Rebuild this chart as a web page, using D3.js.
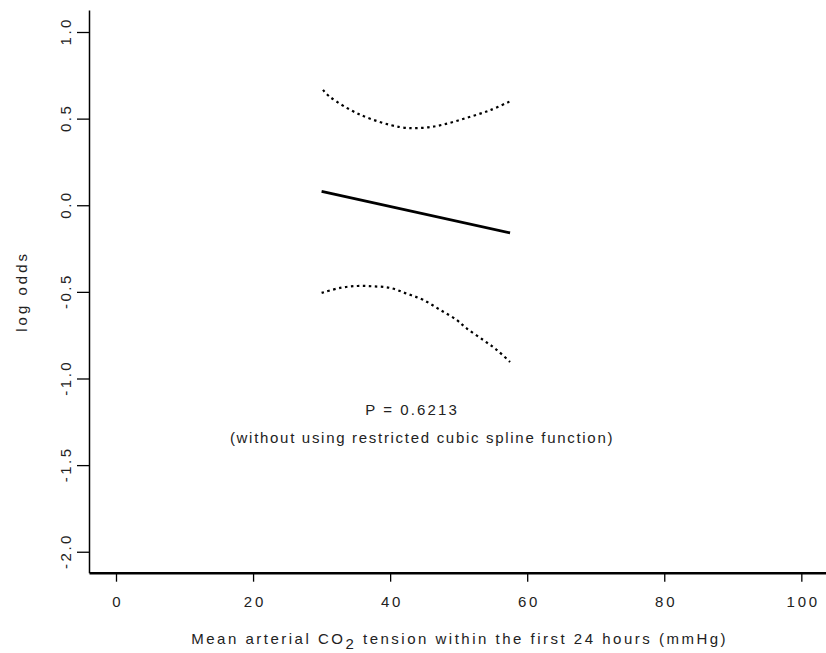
<!DOCTYPE html>
<html>
<head>
<meta charset="utf-8">
<script src="https://cdn.jsdelivr.net/npm/d3@7"></script>
<style>
  body { margin: 0; background: #fff; }
  svg { display: block; font-family: "Liberation Sans", Arial, sans-serif; }
</style>
</head>
<body>
<svg id="chart" width="826" height="653"></svg>
<script>
// ---- data ----
const xTicks = [0, 20, 40, 60, 80, 100];
const yTicks = [-2.0, -1.5, -1.0, -0.5, 0.0, 0.5, 1.0];

const centerX = [30, 57.5];
const centerY = [0.08, -0.16];

const upperX = [30.2, 31.2, 35.6, 41.5, 44.8, 47.7, 51.2, 54.6, 57.5];
const upperY = [0.666, 0.626, 0.523, 0.451, 0.447, 0.465, 0.505, 0.549, 0.600];

const lowerX = [30.0, 32.7, 35.2, 37.5, 40.0, 42.4, 44.8, 47.3, 49.7, 51.2, 53.6, 55.6, 57.5];
const lowerY = [-0.506, -0.477, -0.466, -0.468, -0.477, -0.510, -0.546, -0.604, -0.662, -0.712, -0.778, -0.836, -0.905];

const pText = "P = 0.6213";
const noteText = "(without using restricted cubic spline function)";

// ---- drawing ----
const svg = d3.select("#chart");
const FONT = "Liberation Sans, Arial, sans-serif";
const TXT = "#222";

const x = d3.scaleLinear().domain([-3.94, 103.6]).range([89, 826]);
const y = d3.scaleLinear().domain([-2.121, 1.127]).range([572.7, 10]);

const fmt = d => d.toFixed(1);

// y axis
const yAxisG = svg.append("g")
  .attr("transform", "translate(89,0)")
  .call(d3.axisLeft(y).tickValues(yTicks).tickFormat(fmt).tickSize(12).tickSizeOuter(0));
yAxisG.select(".domain").attr("stroke", "#000").attr("stroke-width", 1.5);
yAxisG.selectAll(".tick line").attr("stroke", "#000").attr("stroke-width", 1.3);
yAxisG.selectAll(".tick text")
  .attr("font-size", 15).attr("fill", TXT)
  .attr("font-family", FONT)
  .attr("letter-spacing", 2.5)
  .attr("text-anchor", "middle")
  .attr("dy", 0)
  .attr("x", 1.25).attr("y", 0)
  .attr("transform", "translate(-23.5,0) rotate(-90)")
  .attr("dominant-baseline", "central");

// x axis
const xAxisG = svg.append("g")
  .attr("transform", "translate(0,572.7)")
  .call(d3.axisBottom(x).tickValues(xTicks).tickFormat(d3.format("d")).tickSize(9).tickSizeOuter(0));
xAxisG.select(".domain").attr("stroke", "#000").attr("stroke-width", 2.6);
xAxisG.selectAll(".tick line").attr("stroke", "#000").attr("stroke-width", 1.3);
xAxisG.selectAll(".tick text")
  .attr("font-size", 15).attr("fill", TXT)
  .attr("font-family", FONT)
  .attr("letter-spacing", 2.8)
  .attr("x", 1.4)
  .attr("y", 34.5).attr("dy", 0);

// axis titles
svg.append("text")
  .attr("transform", `translate(27,${y.range().reduce((a, b) => a + b) / 2}) rotate(-90)`)
  .attr("text-anchor", "middle")
  .attr("font-size", 15).attr("fill", TXT)
  .attr("letter-spacing", 3)
  .text("log odds");

const xt = svg.append("text")
  .attr("x", x(50) + 1).attr("y", 644)
  .attr("text-anchor", "middle")
  .attr("font-size", 15).attr("fill", TXT)
  .attr("letter-spacing", 2.5);
xt.append("tspan").text("Mean arterial CO");
xt.append("tspan").attr("dy", 5).text("2");
xt.append("tspan").attr("dy", -5).text(" tension within the first 24 hours (mmHg)");

// lines
const line = d3.line().x(d => x(d[0])).y(d => y(d[1])).curve(d3.curveCatmullRom);

svg.append("path")
  .datum(centerX.map((v, i) => [v, centerY[i]]))
  .attr("d", line).attr("fill", "none").attr("stroke", "#000").attr("stroke-width", 2.8);

svg.append("path")
  .datum(upperX.map((v, i) => [v, upperY[i]]))
  .attr("d", line).attr("fill", "none").attr("stroke", "#000")
  .attr("stroke-width", 2.2).attr("stroke-dasharray", "2.5,3.5");

svg.append("path")
  .datum(lowerX.map((v, i) => [v, lowerY[i]]))
  .attr("d", line).attr("fill", "none").attr("stroke", "#000")
  .attr("stroke-width", 2.2).attr("stroke-dasharray", "2.5,3.5");

// annotations
svg.append("text")
  .attr("x", 412).attr("y", 415)
  .attr("text-anchor", "middle")
  .attr("font-size", 15).attr("fill", TXT)
  .attr("letter-spacing", 2.1)
  .text(pText);

svg.append("text")
  .attr("x", 422).attr("y", 443)
  .attr("text-anchor", "middle")
  .attr("font-size", 15).attr("fill", TXT)
  .attr("letter-spacing", 1.7)
  .text(noteText);
</script>
</body>
</html>
